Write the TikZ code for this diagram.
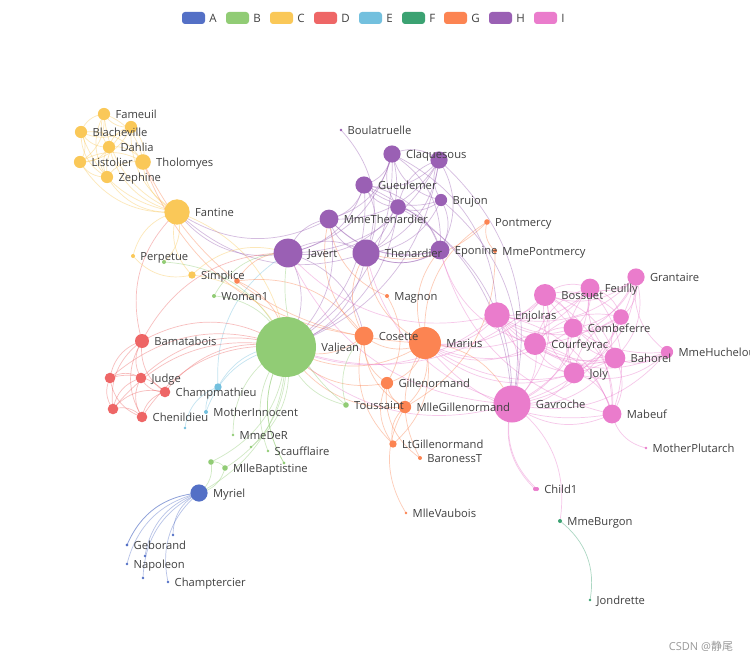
\documentclass[tikz,border=0pt]{standalone}
\usepackage{fontspec}
\setmainfont{Open Sans}
\newfontfamily\cjkfont{Noto Sans CJK SC}
\pgfdeclarelayer{bgfill}
\pgfdeclarelayer{edges}
\pgfdeclarelayer{labels}
\pgfsetlayers{bgfill,edges,main,labels}
\definecolor{cA}{HTML}{5470C6}
\definecolor{cB}{HTML}{91CC75}
\definecolor{cC}{HTML}{FAC858}
\definecolor{cD}{HTML}{EE6666}
\definecolor{cE}{HTML}{73C0DE}
\definecolor{cF}{HTML}{3BA272}
\definecolor{cG}{HTML}{FC8452}
\definecolor{cH}{HTML}{9A60B4}
\definecolor{cI}{HTML}{EA7CCC}
\definecolor{labelgray}{HTML}{404040}
\definecolor{markgray}{HTML}{9A9A9A}
\newcommand\GN[6]{%
  \colorlet{col-#1}{#5}%
  \node[gnode, fill=#5, minimum size=#4*2pt] (#1) at (#2,#3) {};%
  \ifnum#6=1\relax
    \begin{pgfonlayer}{labels}%
      \node[lbl] (t-#1) at ([xshift=5pt,yshift=-4pt]#1.east) {#1};%
    \end{pgfonlayer}%
  \fi}
\begin{document}
\begin{tikzpicture}[x=1pt,y=-1pt,
  gnode/.style={circle,inner sep=0pt,draw=none},
  lbl/.style={anchor=base west,inner sep=0pt,text=labelgray,font=\fontsize{11.2}{13}\selectfont},
  edge/.style={line width=0.7pt,draw opacity=0.42},
  legbox/.style={rectangle,rounded corners=3pt,minimum width=23pt,minimum height=12pt,inner sep=0pt},
  legtxt/.style={anchor=west,inner sep=0pt,text=labelgray,font=\fontsize{11.5}{13}\selectfont}]
\useasboundingbox (0,0) rectangle (750,661);
\begin{pgfonlayer}{bgfill}
\fill[white] (0,0) rectangle (750,661);
\end{pgfonlayer}
% legend
\foreach \c/\x in {A/182,B/226,C/270,D/314,E/359,F/402,G/444,H/489,I/534}{
  \node[legbox, fill=c\c] (leg-\c) at (\x+11.5,18) {};
  \node[legtxt] (legt-\c) at ([xshift=4pt]leg-\c.east) {\c};
}
% nodes: name x y r colour showlabel
\GN{Myriel}{199}{493}{8.6}{cA}{1}
\GN{Napoleon}{127}{564}{1.3}{cA}{1}
\GN{MlleBaptistine}{225}{468}{2.8}{cB}{1}
\GN{MmeMagloire}{211}{462}{2.8}{cB}{0}
\GN{CountessDeLo}{173}{535}{1.3}{cA}{0}
\GN{Geborand}{127}{545}{1.3}{cA}{1}
\GN{Champtercier}{168}{582}{1.3}{cA}{1}
\GN{Cravatte}{145}{556}{1.3}{cA}{0}
\GN{Count}{143}{578}{1.3}{cA}{0}
\GN{OldMan}{127}{545}{1.3}{cA}{0}
\GN{Labarre}{251}{447}{1.3}{cB}{0}
\GN{Valjean}{286}{347}{30}{cB}{1}
\GN{Marguerite}{164}{262}{2}{cB}{0}
\GN{MmeDeR}{233}{435}{1.3}{cB}{1}
\GN{Isabeau}{284}{463}{1.3}{cB}{0}
\GN{Gervais}{284}{463}{1.3}{cB}{0}
\GN{Tholomyes}{143}{162}{7.8}{cC}{1}
\GN{Listolier}{80}{162}{6.1}{cC}{1}
\GN{Fameuil}{104}{114}{6.1}{cC}{1}
\GN{Blacheville}{81}{132}{6.1}{cC}{1}
\GN{Favourite}{131}{127}{6.1}{cC}{0}
\GN{Dahlia}{109}{147}{6.1}{cC}{1}
\GN{Zephine}{107}{177}{6.1}{cC}{1}
\GN{Fantine}{177}{212}{12.7}{cC}{1}
\GN{MmeThenardier}{329}{219}{9.4}{cH}{1}
\GN{Thenardier}{366}{253}{13.5}{cH}{1}
\GN{Cosette}{364}{336}{9.4}{cG}{1}
\GN{Javert}{288}{253}{14.4}{cH}{1}
\GN{Fauchelevent}{218}{387}{3.7}{cE}{0}
\GN{Bamatabois}{142}{341}{7}{cD}{1}
\GN{Perpetue}{133}{256}{2}{cC}{1}
\GN{Simplice}{192}{275}{3.7}{cC}{1}
\GN{Scaufflaire}{268}{451}{1.3}{cB}{1}
\GN{Woman1}{214}{296}{2}{cB}{1}
\GN{Judge}{141}{378}{5.3}{cD}{1}
\GN{Champmathieu}{165}{392}{5.3}{cD}{1}
\GN{Brevet}{110}{378}{5.3}{cD}{0}
\GN{Chenildieu}{142}{417}{5.3}{cD}{1}
\GN{Cochepaille}{113}{409}{5.3}{cD}{0}
\GN{Pontmercy}{487}{222}{2.8}{cG}{1}
\GN{Boulatruelle}{341}{130}{1.3}{cH}{1}
\GN{Eponine}{440}{250}{9.4}{cH}{1}
\GN{Anzelma}{437}{251}{2.8}{cH}{0}
\GN{Woman2}{237}{281}{2.8}{cG}{0}
\GN{MotherInnocent}{206}{412}{2}{cE}{1}
\GN{Gribier}{185}{428}{1.3}{cE}{0}
\GN{Jondrette}{590}{600}{1.3}{cF}{1}
\GN{MmeBurgon}{560}{521}{2}{cF}{1}
\GN{Gavroche}{512}{404}{18.5}{cI}{1}
\GN{Gillenormand}{387}{383}{6.1}{cG}{1}
\GN{Magnon}{387}{296}{2}{cG}{1}
\GN{MlleGillenormand}{405}{407}{6.1}{cG}{1}
\GN{MmePontmercy}{495}{251}{2}{cG}{1}
\GN{MlleVaubois}{406}{513}{1.3}{cG}{1}
\GN{LtGillenormand}{393}{444}{3.7}{cG}{1}
\GN{Marius}{425}{343}{16}{cG}{1}
\GN{BaronessT}{420}{458}{2}{cG}{1}
\GN{Mabeuf}{612}{414}{9.4}{cI}{1}
\GN{Enjolras}{497}{315}{12.7}{cI}{1}
\GN{Combeferre}{573}{328}{9.4}{cI}{1}
\GN{Prouvaire}{621}{317}{7.8}{cI}{0}
\GN{Feuilly}{590}{288}{9.4}{cI}{1}
\GN{Courfeyrac}{535}{344}{11}{cI}{1}
\GN{Bahorel}{615}{358}{10.3}{cI}{1}
\GN{Bossuet}{545}{295}{11}{cI}{1}
\GN{Joly}{574}{373}{10.3}{cI}{1}
\GN{Grantaire}{636}{277}{8.6}{cI}{1}
\GN{MotherPlutarch}{646}{448}{1.3}{cI}{1}
\GN{Gueulemer}{364}{185}{8.6}{cH}{1}
\GN{Babet}{439}{160}{8.6}{cH}{0}
\GN{Claquesous}{392}{154}{8.6}{cH}{1}
\GN{Montparnasse}{398}{207}{7.8}{cH}{0}
\GN{Toussaint}{346}{405}{2.8}{cB}{1}
\GN{Child1}{537}{489}{2}{cI}{1}
\GN{Child2}{535}{489}{2}{cI}{0}
\GN{Brujon}{441}{200}{6.1}{cH}{1}
\GN{MmeHucheloup}{667}{352}{6.1}{cI}{1}
% edges (coloured by source, curveness 0.3)
\begin{pgfonlayer}{edges}
\foreach \s/\t in {Napoleon/Myriel, MlleBaptistine/Myriel, MmeMagloire/Myriel, MmeMagloire/MlleBaptistine, CountessDeLo/Myriel, Geborand/Myriel, Champtercier/Myriel, Cravatte/Myriel, Count/Myriel, OldMan/Myriel,
Valjean/Labarre, Valjean/MmeMagloire, Valjean/MlleBaptistine, Valjean/Myriel, Marguerite/Valjean, MmeDeR/Valjean, Isabeau/Valjean, Gervais/Valjean,
Listolier/Tholomyes, Fameuil/Tholomyes, Fameuil/Listolier, Blacheville/Tholomyes, Blacheville/Listolier, Blacheville/Fameuil, Favourite/Tholomyes, Favourite/Listolier, Favourite/Fameuil, Favourite/Blacheville, Dahlia/Tholomyes, Dahlia/Listolier, Dahlia/Fameuil, Dahlia/Blacheville, Dahlia/Favourite, Zephine/Tholomyes, Zephine/Listolier, Zephine/Fameuil, Zephine/Blacheville, Zephine/Favourite, Zephine/Dahlia,
Fantine/Tholomyes, Fantine/Listolier, Fantine/Fameuil, Fantine/Blacheville, Fantine/Favourite, Fantine/Dahlia, Fantine/Zephine, Fantine/Marguerite, Fantine/Valjean,
MmeThenardier/Fantine, MmeThenardier/Valjean, Thenardier/MmeThenardier, Thenardier/Fantine, Thenardier/Valjean,
Cosette/MmeThenardier, Cosette/Valjean, Cosette/Tholomyes, Cosette/Thenardier,
Javert/Valjean, Javert/Fantine, Javert/Thenardier, Javert/MmeThenardier, Javert/Cosette,
Fauchelevent/Valjean, Fauchelevent/Javert,
Bamatabois/Fantine, Bamatabois/Javert, Bamatabois/Valjean,
Perpetue/Fantine, Simplice/Perpetue, Simplice/Valjean, Simplice/Fantine, Simplice/Javert,
Scaufflaire/Valjean, Woman1/Valjean, Woman1/Javert,
Judge/Valjean, Judge/Bamatabois, Champmathieu/Valjean, Champmathieu/Judge, Champmathieu/Bamatabois,
Brevet/Judge, Brevet/Champmathieu, Brevet/Valjean, Brevet/Bamatabois,
Chenildieu/Judge, Chenildieu/Champmathieu, Chenildieu/Brevet, Chenildieu/Valjean, Chenildieu/Bamatabois,
Cochepaille/Judge, Cochepaille/Champmathieu, Cochepaille/Brevet, Cochepaille/Chenildieu, Cochepaille/Valjean, Cochepaille/Bamatabois,
Pontmercy/Thenardier, Boulatruelle/Thenardier, Eponine/MmeThenardier, Eponine/Thenardier, Anzelma/Eponine, Anzelma/Thenardier, Anzelma/MmeThenardier,
Woman2/Valjean, Woman2/Cosette, Woman2/Javert, MotherInnocent/Fauchelevent, MotherInnocent/Valjean, Gribier/Fauchelevent,
MmeBurgon/Jondrette, Gavroche/MmeBurgon, Gavroche/Thenardier, Gavroche/Javert, Gavroche/Valjean,
Gillenormand/Cosette, Gillenormand/Valjean, Magnon/Gillenormand, Magnon/MmeThenardier,
MlleGillenormand/Gillenormand, MlleGillenormand/Cosette, MlleGillenormand/Valjean,
MmePontmercy/MlleGillenormand, MmePontmercy/Pontmercy, MlleVaubois/MlleGillenormand,
LtGillenormand/MlleGillenormand, LtGillenormand/Gillenormand, LtGillenormand/Cosette,
Marius/MlleGillenormand, Marius/Gillenormand, Marius/Pontmercy, Marius/LtGillenormand, Marius/Cosette, Marius/Valjean, Marius/Tholomyes, Marius/Thenardier, Marius/Eponine, Marius/Gavroche,
BaronessT/Gillenormand, BaronessT/Marius,
Mabeuf/Marius, Mabeuf/Eponine, Mabeuf/Gavroche,
Enjolras/Marius, Enjolras/Gavroche, Enjolras/Javert, Enjolras/Mabeuf, Enjolras/Valjean,
Combeferre/Enjolras, Combeferre/Marius, Combeferre/Gavroche, Combeferre/Mabeuf,
Prouvaire/Gavroche, Prouvaire/Enjolras, Prouvaire/Combeferre,
Feuilly/Gavroche, Feuilly/Enjolras, Feuilly/Prouvaire, Feuilly/Combeferre, Feuilly/Mabeuf, Feuilly/Marius,
Courfeyrac/Marius, Courfeyrac/Enjolras, Courfeyrac/Combeferre, Courfeyrac/Gavroche, Courfeyrac/Mabeuf, Courfeyrac/Eponine, Courfeyrac/Feuilly, Courfeyrac/Prouvaire,
Bahorel/Combeferre, Bahorel/Gavroche, Bahorel/Courfeyrac, Bahorel/Mabeuf, Bahorel/Enjolras, Bahorel/Feuilly, Bahorel/Prouvaire, Bahorel/Marius,
Bossuet/Marius, Bossuet/Courfeyrac, Bossuet/Gavroche, Bossuet/Bahorel, Bossuet/Enjolras, Bossuet/Feuilly, Bossuet/Prouvaire, Bossuet/Combeferre, Bossuet/Mabeuf, Bossuet/Valjean,
Joly/Bahorel, Joly/Bossuet, Joly/Gavroche, Joly/Courfeyrac, Joly/Enjolras, Joly/Feuilly, Joly/Prouvaire, Joly/Combeferre, Joly/Mabeuf, Joly/Marius,
Grantaire/Bossuet, Grantaire/Enjolras, Grantaire/Combeferre, Grantaire/Courfeyrac, Grantaire/Joly, Grantaire/Gavroche, Grantaire/Bahorel, Grantaire/Feuilly, Grantaire/Prouvaire,
MotherPlutarch/Mabeuf,
Gueulemer/Thenardier, Gueulemer/Valjean, Gueulemer/MmeThenardier, Gueulemer/Javert, Gueulemer/Gavroche, Gueulemer/Eponine,
Babet/Thenardier, Babet/Gueulemer, Babet/Valjean, Babet/MmeThenardier, Babet/Javert, Babet/Gavroche, Babet/Eponine,
Claquesous/Thenardier, Claquesous/Babet, Claquesous/Gueulemer, Claquesous/Valjean, Claquesous/MmeThenardier, Claquesous/Javert, Claquesous/Eponine, Claquesous/Enjolras,
Montparnasse/Javert, Montparnasse/Babet, Montparnasse/Gueulemer, Montparnasse/Claquesous, Montparnasse/Valjean, Montparnasse/Gavroche, Montparnasse/Eponine, Montparnasse/Thenardier,
Toussaint/Cosette, Toussaint/Javert, Toussaint/Valjean,
Child1/Gavroche, Child2/Gavroche, Child2/Child1,
Brujon/Babet, Brujon/Gueulemer, Brujon/Thenardier, Brujon/Gavroche, Brujon/Eponine, Brujon/Claquesous, Brujon/Montparnasse,
MmeHucheloup/Bossuet, MmeHucheloup/Joly, MmeHucheloup/Grantaire, MmeHucheloup/Bahorel, MmeHucheloup/Courfeyrac, MmeHucheloup/Gavroche, MmeHucheloup/Enjolras}{
  \edef\tmp{\noexpand\draw[edge, draw=col-\s] (\s.center) to[bend left=31] (\t.center);}\tmp
}
\end{pgfonlayer}
% watermark
\node[inner sep=0pt,text=markgray,font=\fontsize{11}{13}\selectfont] (wm) at (701,646) {CSDN @{\cjkfont 静尾}};
\end{tikzpicture}
\end{document}
